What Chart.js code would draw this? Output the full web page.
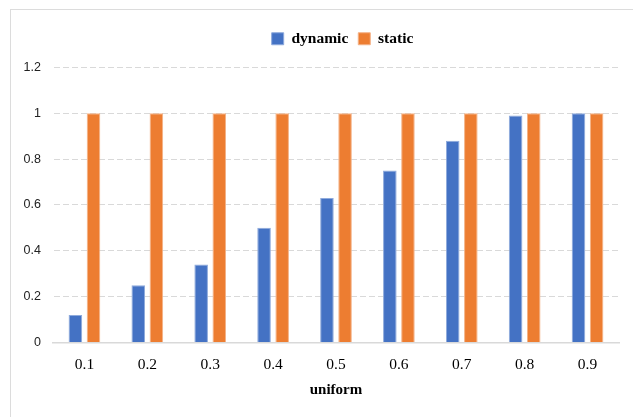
<!DOCTYPE html>
<html>
<head>
<meta charset="utf-8">
<script src="https://cdn.jsdelivr.net/npm/chart.js@4"></script>
<style>
  html, body { margin: 0; padding: 0; background: #fff; }
  #frame { position: absolute; left: 10px; top: 9px; width: 640px; height: 430px;
           border: 1.5px solid #dcdcdc; box-sizing: border-box; }
  #wrap { position: absolute; left: 0; top: 0; width: 633px; height: 417px; }
</style>
</head>
<body>
<div id="frame"></div>
<div id="wrap"><canvas id="c" width="633" height="417"></canvas></div>
<script>
const categories = ['0.1', '0.2', '0.3', '0.4', '0.5', '0.6', '0.7', '0.8', '0.9'];
const dynamicValues = [0.12, 0.25, 0.34, 0.50, 0.63, 0.75, 0.88, 0.99, 1.00];
const staticValues = [1, 1, 1, 1, 1, 1, 1, 1, 1];
const yTicks = [0, 0.2, 0.4, 0.6, 0.8, 1, 1.2];

const serif = '"Liberation Serif", "Times New Roman", serif';
const sans = '"Liberation Sans", Arial, sans-serif';

// Extra room under the legend, and the legend nudged right of centre.
const legendTweak = {
  id: 'legendTweak',
  beforeInit(chart) {
    const legend = chart.legend;
    const fit = legend.fit;
    legend.fit = function () {
      fit.call(this);
      this.height += 11;
    };
  },
  afterLayout(chart) {
    chart.legend.left += 33;
    chart.legend.right += 33;
  }
};

new Chart(document.getElementById('c'), {
  type: 'bar',
  data: {
    labels: categories,
    datasets: [
      { label: 'dynamic', data: dynamicValues, backgroundColor: '#4472C4',
        borderColor: '#8eaadc', borderWidth: 1, borderSkipped: 'bottom' },
      { label: 'static', data: staticValues, backgroundColor: '#ED7D31',
        borderColor: '#f4b286', borderWidth: 1, borderSkipped: 'bottom' }
    ]
  },
  plugins: [legendTweak],
  options: {
    responsive: false,
    animation: false,
    categoryPercentage: 0.576,
    barPercentage: 0.75,
    layout: { padding: { left: 0, right: 14, top: 21, bottom: 18 } },
    plugins: {
      tooltip: { enabled: false },
      legend: {
        position: 'top',
        labels: {
          font: { family: serif, size: 15.5, weight: 'bold' },
          color: '#000',
          boxWidth: 12, boxHeight: 12, padding: 10
        }
      }
    },
    scales: {
      x: {
        grid: { display: false },
        border: { display: true, color: '#d9d9d9', width: 1.5 },
        ticks: { font: { family: serif, size: 15.5 }, color: '#000', padding: 5.5 },
        title: { display: true, text: 'uniform',
                 font: { family: serif, size: 15, weight: 'bold' }, color: '#000',
                 padding: { top: 1, bottom: 0 } }
      },
      y: {
        min: 0, max: 1.2,
        afterFit(scale) { scale.width = 53; },
        afterBuildTicks(scale) { scale.ticks = yTicks.map(v => ({ value: v })); },
        border: { display: true, color: 'rgba(0,0,0,0)', dash: [6, 3] },
        grid: { color: '#d9d9d9', lineWidth: 1, drawTicks: false },
        ticks: { font: { family: sans, size: 12.5 }, color: '#222', padding: 12,
                 callback: (v) => String(v) }
      }
    }
  }
});
</script>
</body>
</html>
